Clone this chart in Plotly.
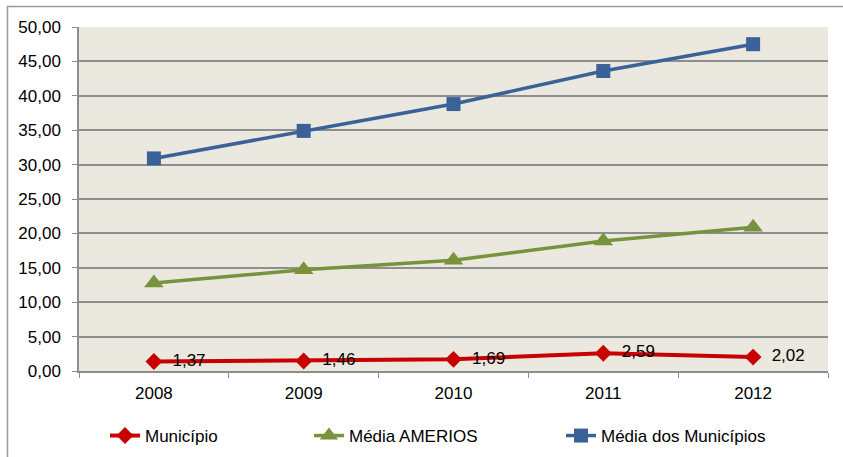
import plotly.graph_objects as go

years = ["2008", "2009", "2010", "2011", "2012"]
municipio = [1.37, 1.46, 1.69, 2.59, 2.02]
media_amerios = [12.8, 14.7, 16.1, 18.9, 20.9]
media_municipios = [30.9, 34.9, 38.8, 43.6, 47.5]
y_ticks = [0, 5, 10, 15, 20, 25, 30, 35, 40, 45, 50]
y_tick_labels = ["0,00", "5,00", "10,00", "15,00", "20,00", "25,00", "30,00",
                 "35,00", "40,00", "45,00", "50,00"]

municipio_labels = ["\u00a0\u00a0" + f"{v:.2f}".replace(".", ",") for v in municipio]

RED = "#C80000"
GREEN = "#77933C"
BLUE = "#3A6298"
FONT = "Liberation Sans, Arial, sans-serif"

fig = go.Figure()
fig.add_trace(go.Scatter(
    x=years, y=municipio, name="Município", mode="lines+markers+text",
    text=municipio_labels, textposition="middle right",
    textfont=dict(size=17, color="#000000", family=FONT),
    line=dict(color=RED, width=4),
    marker=dict(symbol="diamond", size=13, color=RED),
    legend="legend", cliponaxis=False))
fig.add_trace(go.Scatter(
    x=years, y=media_amerios, name="Média AMERIOS", mode="lines+markers",
    line=dict(color=GREEN, width=3.5),
    marker=dict(symbol="triangle-up", size=17, color=GREEN),
    legend="legend2"))
fig.add_trace(go.Scatter(
    x=years, y=media_municipios, name="Média dos Municípios", mode="lines+markers",
    line=dict(color=BLUE, width=3.5),
    marker=dict(symbol="square", size=14, color=BLUE),
    legend="legend3"))

L, R, T, B = 79, 15, 27, 86
W, H = 843, 457
pw = W - L - R
ph = H - T - B

def px_x(x):
    return (x - L) / pw

def px_y(y):
    return (H - B - y) / ph

def cx(x):
    return x / W

def cy(y):
    return (H - y) / H

leg_common = dict(orientation="h", yanchor="middle", xanchor="left",
                  xref="container", yref="container",
                  font=dict(size=17, family=FONT, color="#000000"),
                  bgcolor="rgba(0,0,0,0)", borderwidth=0,
                  itemwidth=30)

fig.update_layout(
    width=W, height=H,
    margin=dict(l=L, r=R, t=T, b=B, autoexpand=False),
    paper_bgcolor="#FFFFFF",
    plot_bgcolor="#EBE8DF",
    font=dict(family=FONT, size=17, color="#000000"),
    showlegend=True,
    legend=dict(x=cx(105), y=cy(436), **leg_common),
    legend2=dict(x=cx(309), y=cy(436), **leg_common),
    legend3=dict(x=cx(561), y=cy(436), **leg_common),
    xaxis=dict(type="category", range=[-0.5, 4.5], showgrid=False,
               showline=True, linecolor="#8C8C8C", linewidth=1.5,
               ticks="outside", ticklen=5, tickcolor="#8C8C8C",
               tickson="boundaries", tickfont=dict(size=17),
               ticklabelstandoff=6, automargin=False, fixedrange=True),
    yaxis=dict(range=[0, 50], tickvals=y_ticks, ticktext=y_tick_labels,
               showgrid=True, gridcolor="#8E8E8E", gridwidth=1.5,
               showline=True, linecolor="#8C8C8C", linewidth=1.5,
               ticks="outside", ticklen=5, tickcolor="#8C8C8C",
               tickfont=dict(size=17), ticklabelstandoff=8,
               automargin=False, zeroline=False, fixedrange=True),
    shapes=[dict(type="rect", xref="paper", yref="paper",
                 x0=px_x(7.5), x1=px_x(860), y0=px_y(470), y1=px_y(6.5),
                 line=dict(color="#9A9A9A", width=1.5), layer="below")],
)

fig.write_html("out.html")
